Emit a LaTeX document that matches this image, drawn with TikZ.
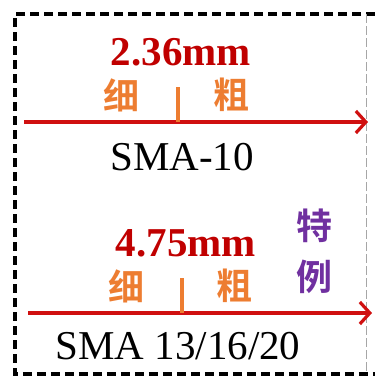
\documentclass[tikz,border=0pt]{standalone}
\usepackage{fontspec}
\setmainfont{Liberation Serif}
\newfontfamily\cjk{Noto Sans CJK SC}[BoldFont={* Bold}]
\usetikzlibrary{arrows.meta}
\definecolor{darkred}{HTML}{C00000}
\definecolor{arrred}{HTML}{D01010}
\definecolor{orng}{HTML}{ED7D31}
\definecolor{purp}{HTML}{7030A0}
\tikzset{
  sizelbl/.style={font=\fontsize{41}{41}\selectfont\bfseries, text=darkred, inner sep=0pt},
  cnlbl/.style={font=\fontsize{36}{36}\selectfont\cjk\bfseries, text=orng, inner sep=0pt},
  splbl/.style={font=\fontsize{36}{36}\selectfont\cjk\bfseries, text=purp, inner sep=0pt},
  gradelbl/.style={font=\fontsize{41}{41}\selectfont, text=black, inner sep=0pt},
  axis/.style={draw=arrred, line width=3.4pt, -{Straight Barb[length=10pt,width=22pt,line width=3.2pt]}},
  tick/.style={draw=orng, line width=4pt},
}
\begin{document}
\begin{tikzpicture}[x=1pt,y=1pt]
\useasboundingbox (0,0) rectangle (375,-376);
% border
\draw[line width=3.2pt, dash pattern=on 9pt off 5pt] (375,-14) -- (15,-14) -- (15,-374) -- (375,-374);
\draw[line width=1pt, black!35, dash pattern=on 9pt off 3pt] (366,-14) -- (366,-374);
% upper
\coordinate (a1) at (24,-122);
\coordinate (b1) at (368,-122);
\draw[axis] (a1) -- (b1);
\coordinate (t1) at (178,-87);
\coordinate (t1b) at (178,-122);
\draw[tick] (t1) -- (t1b);
\node[sizelbl] (s1) at (181,-52) {2.36mm};
\node[cnlbl] (x1) at (121,-95) {细};
\node[cnlbl] (c1) at (232,-95) {粗};
\node[gradelbl] (g1) at (182,-157) {SMA-10};
% lower
\coordinate (a2) at (28,-313);
\coordinate (b2) at (372,-313);
\draw[axis] (a2) -- (b2);
\coordinate (t2) at (182,-278);
\coordinate (t2b) at (182,-313);
\draw[tick] (t2) -- (t2b);
\node[sizelbl] (s2) at (186,-243) {4.75mm};
\node[cnlbl] (x2) at (126,-286) {细};
\node[cnlbl] (c2) at (235,-286) {粗};
\node[splbl] (p1) at (315,-226) {特};
\node[splbl] (p2) at (315,-277) {例};
\node[gradelbl] (g2) at (178,-346) {SMA 13/16/20};
\end{tikzpicture}
\end{document}
